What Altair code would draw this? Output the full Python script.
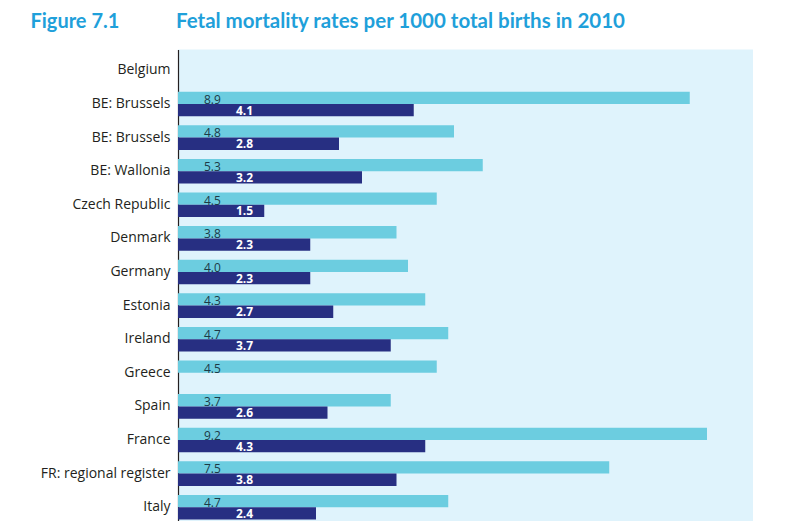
import json
import altair as alt
import pandas as pd

categories = ["Belgium", "BE: Brussels", "BE: Brussels", "BE: Wallonia", "Czech Republic",
              "Denmark", "Germany", "Estonia", "Ireland", "Greece", "Spain", "France",
              "FR: regional register", "Italy"]
light_values = [None, 8.9, 4.8, 5.3, 4.5, 3.8, 4.0, 4.3, 4.7, 4.5, 3.7, 9.2, 7.5, 4.7]
dark_values = [None, 4.1, 2.8, 3.2, 1.5, 2.3, 2.3, 2.7, 3.7, None, 2.6, 4.3, 3.8, 2.4]
series = ["light", "dark"]

rows = []
for i, (l, d) in enumerate(zip(light_values, dark_values)):
    for s, v in zip(series, (l, d)):
        if v is not None:
            rows.append({"row": i, "series": s, "value": v, "label": f"{v:.1f}"})
df = pd.DataFrame(rows)

LIGHT = "#6ccde0"
DARK = "#272f82"
TITLE_BLUE = "#1fa0da"

label_expr = "[" + ",".join(json.dumps(c) for c in categories) + "][datum.value]"

y_enc = alt.Y(
    "row:O",
    scale=alt.Scale(domain=list(range(len(categories))), paddingInner=0.268, paddingOuter=0.256),
    axis=alt.Axis(
        title="Figure 7.1", titleAngle=0, titleAlign="left", titleBaseline="alphabetic",
        titleX=-148, titleY=-22, titleFont="Lato", titleFontSize=20,
        titleFontWeight="bold", titleColor=TITLE_BLUE,
        labelExpr=label_expr, labelFont="Open Sans", labelFontSize=14,
        labelColor="#231f20", labelPadding=8, ticks=False, grid=False,
        domainColor="#231f20", domainWidth=1.2,
    ),
)
yoff = alt.YOffset("series:N", scale=alt.Scale(domain=series))

base = alt.Chart(df)

bars = base.mark_bar().encode(
    y=y_enc,
    yOffset=yoff,
    x=alt.X("value:Q", scale=alt.Scale(domain=[0, 10]), axis=None),
    color=alt.Color("series:N", scale=alt.Scale(domain=series, range=[LIGHT, DARK]), legend=None),
)

light_text = base.transform_filter("datum.series == 'light'").mark_text(
    align="left", baseline="alphabetic", dy=6, font="Open Sans", fontSize=12, color="#1d3a47"
).encode(y=y_enc, yOffset=yoff, x=alt.value(26), text="label:N")

dark_text = base.transform_filter("datum.series == 'dark'").mark_text(
    align="left", baseline="alphabetic", dy=4.5, font="Open Sans", fontSize=12,
    fontWeight="bold", color="white"
).encode(y=y_enc, yOffset=yoff, x=alt.value(58), text="label:N")

chart = alt.layer(bars, light_text, dark_text).properties(
    width=575,
    height=478.6,
    autosize=alt.AutoSizeParams(type="none"),
    padding={"left": 170, "top": 41.5, "right": 40, "bottom": 0},
    title=alt.TitleParams(
        text="Fetal mortality rates per 1000 total births in 2010",
        anchor="start", frame="group", font="Lato", fontSize=20.5, fontWeight="bold",
        color=TITLE_BLUE, baseline="alphabetic", offset=-37.5, dx=-2,
    ),
).configure_view(fill="#dff3fc", stroke=None)

chart.save("out.html", embed_options={"renderer": "svg", "actions": False})
